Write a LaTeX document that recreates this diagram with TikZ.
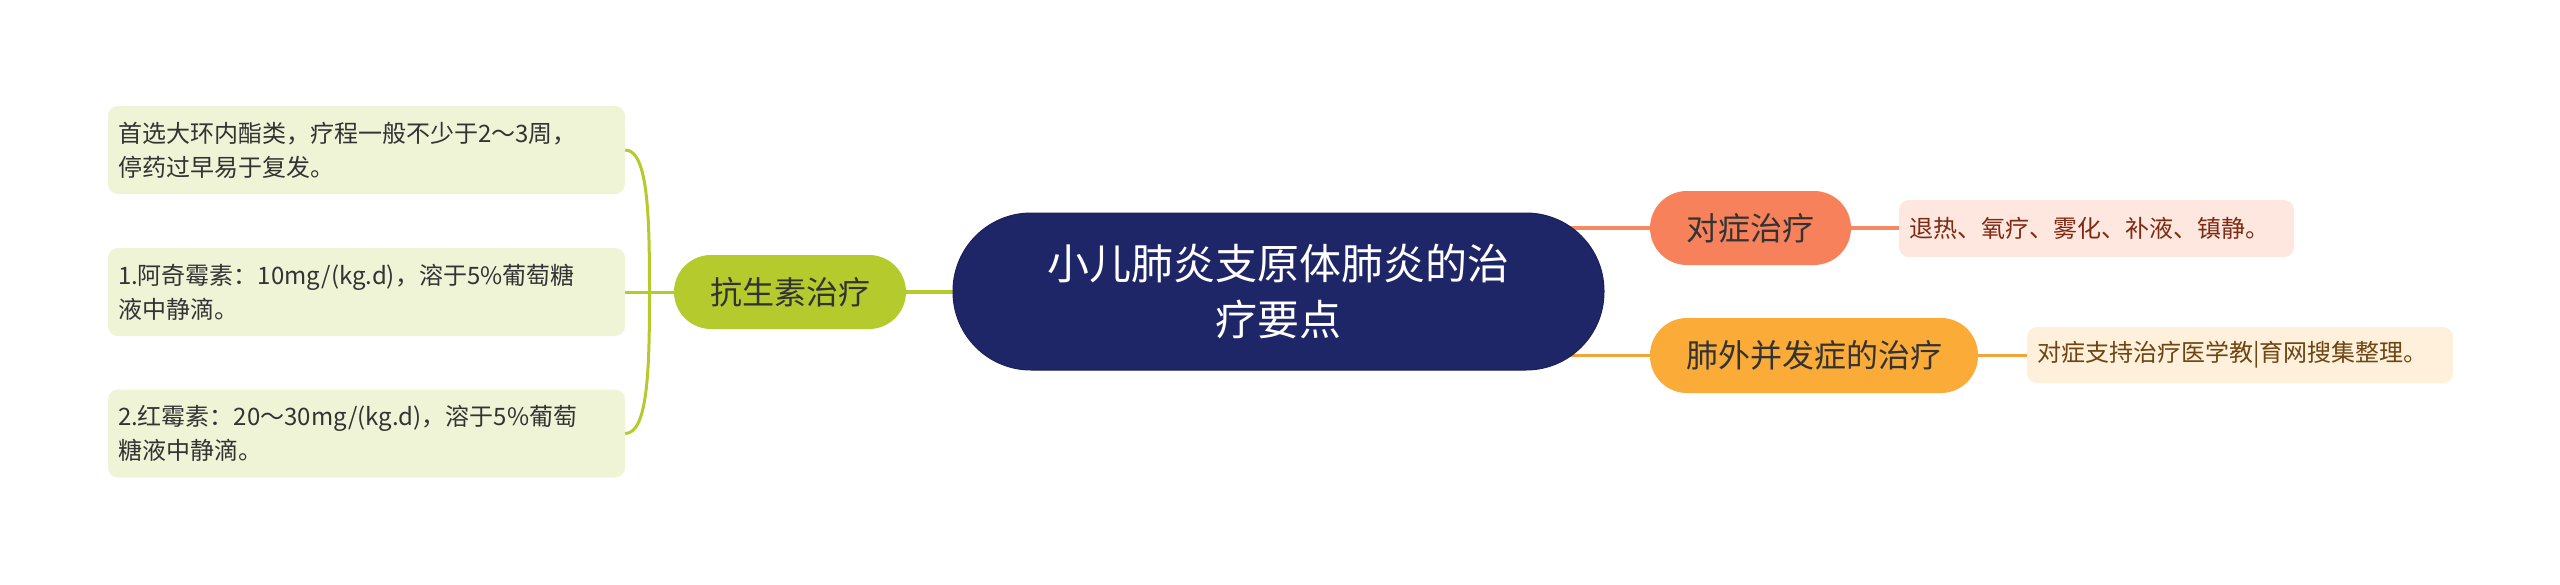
\documentclass[tikz,border=0pt]{standalone}
\usepackage{fontspec}
\setmainfont{Noto Sans CJK SC}
\usetikzlibrary{backgrounds,calc}
\definecolor{navy}{HTML}{1F2667}
\definecolor{lime}{HTML}{B5CA2D}
\definecolor{limeleaf}{HTML}{EFF4D7}
\definecolor{coral}{HTML}{F7815A}
\definecolor{coralline}{HTML}{F28A64}
\definecolor{coralleaf}{HTML}{FDE7DF}
\definecolor{coraltext}{HTML}{7F2A12}
\definecolor{amber}{HTML}{FBAB38}
\definecolor{amberline}{HTML}{F2A43C}
\definecolor{amberleaf}{HTML}{FEF0DA}
\definecolor{ambertext}{HTML}{6E4512}
\definecolor{darktext}{HTML}{333333}
\tikzset{
  rootnode/.style={fill=navy, draw=navy!85!black, line width=1pt, rounded corners=78pt,
    minimum width=651pt, minimum height=157pt, inner sep=0pt, align=center,
    text=white, font=\fontsize{42}{56}\selectfont},
  mainnode/.style={rounded corners=37pt, minimum height=74pt, inner sep=0pt,
    text=darktext, font=\fontsize{32}{40}\selectfont},
  leafnode/.style={rounded corners=10pt, inner xsep=10pt, inner ysep=0pt,
    align=left, font=\fontsize{24}{34}\selectfont},
  conn/.style={line width=3.5pt},
}
\begin{document}
\begin{tikzpicture}[x=1pt,y=-1pt]
\useasboundingbox (0,0) rectangle (2560,584);
% root
\node[rootnode] (root) at (1278.5,291.5) {小儿肺炎支原体肺炎的治\\疗要点};
% main branches
\node[mainnode, fill=lime, minimum width=232pt] (kang) at (790,292) {抗生素治疗};
\node[mainnode, fill=coral, minimum width=201pt] (dui) at (1750.5,228) {对症治疗};
\node[mainnode, fill=amber, minimum width=328pt, minimum height=75pt] (fei) at (1814,355.5) {肺外并发症的治疗};
% leaves left
\node[leafnode, fill=limeleaf, text=darktext, minimum width=517pt, minimum height=88pt, text width=497pt] (l1) at (366.5,150) {首选大环内酯类，疗程一般不少于2～3周，\\停药过早易于复发。};
\node[leafnode, fill=limeleaf, text=darktext, minimum width=517pt, minimum height=88pt, text width=497pt] (l2) at (366.5,292) {1.阿奇霉素：10mg/(kg.d)，溶于5\%葡萄糖\\液中静滴。};
\node[leafnode, fill=limeleaf, text=darktext, minimum width=517pt, minimum height=88pt, text width=497pt] (l3) at (366.5,433.5) {2.红霉素：20～30mg/(kg.d)，溶于5\%葡萄\\糖液中静滴。};
% leaves right
\node[leafnode, fill=coralleaf, text=coraltext, minimum width=395pt, minimum height=57pt, text width=375pt] (r1) at (2096.5,228.5) {退热、氧疗、雾化、补液、镇静。};
\node[leafnode, fill=amberleaf, text=ambertext, minimum width=426pt, minimum height=56pt, text width=406pt] (r2) at (2240,355) {对症支持治疗医学教|育网搜集整理。};
% connectors
\coordinate (J) at ($(l2.east)!0.5!(kang.west)$);
\begin{pgfonlayer}{background}
\draw[conn, lime] (kang.east) -- (root.west |- kang.east);
\draw[conn, coralline] (root.center |- dui.west) -- (dui.west);
\draw[conn, amberline] (root.center |- fei.west) -- (fei.west);
\end{pgfonlayer}
\draw[conn, coralline] (dui.east) -- (r1.west |- dui.east);
\draw[conn, amberline] (fei.east) -- (r2.west |- fei.east);
\draw[line width=3pt, lime] (kang.west) -- (l2.east);
\draw[line width=3pt, lime] (l1.east) .. controls +(23,0) and +(0,-75) .. (J);
\draw[line width=3pt, lime] (l3.east) .. controls +(23,0) and +(0,75) .. (J);
\end{tikzpicture}
\end{document}
